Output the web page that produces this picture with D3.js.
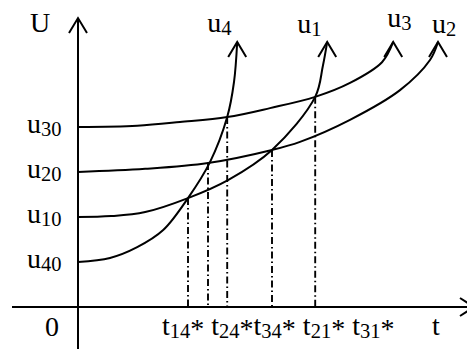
<!DOCTYPE html>
<html>
<head>
<meta charset="utf-8">
<script src="https://cdn.jsdelivr.net/npm/d3@7"></script>
<style>
  body { margin: 0; background: #fff; }
  text { font-family: "Liberation Serif", "Times New Roman", serif; fill: #000; }
</style>
</head>
<body>
<div id="chart"></div>
<script>
// levels of the four curves at t = 0
const levels = [
  { sub: "40", u: 1 },
  { sub: "10", u: 2 },
  { sub: "20", u: 3 },
  { sub: "30", u: 4 }
];

// curve points [t, u]
const u4 = [[0, 1], [0.8, 1.09], [1.48, 1.33], [2.13, 1.71], [2.75, 2.42], [3.3, 3.22], [3.73, 4.22], [3.9, 5.0], [3.98, 5.89]];
const u1 = [[0, 2], [0.83, 2.02], [1.68, 2.11], [2.75, 2.42], [3.75, 2.82], [4.85, 3.49], [5.93, 4.67], [6.12, 5.35], [6.23, 5.89]];
const u3 = [[0, 4], [1.48, 4.03], [2.55, 4.11], [3.73, 4.22], [4.8, 4.42], [5.93, 4.67], [6.8, 4.98], [7.6, 5.44], [7.88, 5.89]];
const u2 = [[0, 3], [1.68, 3.07], [3.25, 3.2], [4.85, 3.49], [5.55, 3.67], [6.8, 4.16], [8.05, 4.82], [8.8, 5.49], [9.0, 5.89]];

const curves = [
  { sub: "4", pts: u4 },
  { sub: "1", pts: u1 },
  { sub: "3", pts: u3 },
  { sub: "2", pts: u2 }
];

// crossing points [t, u] and their names
const crossings = [[2.75, 2.42], [3.25, 3.2], [3.73, 4.22], [4.85, 3.49], [5.93, 4.67]];
const crossNames = ["14", "24", "34", "21", "31"];

const W = 467, H = 349;

const svg = d3.select("#chart").append("svg")
  .attr("width", W)
  .attr("height", H);

// 40px per t unit, 45px per u unit
const x = d3.scaleLinear().domain([0, 9.7]).range([78, 466]);
const y = d3.scaleLinear().domain([0, 1]).range([307, 262]);

const ink = "#000";

// axes
svg.append("line")
  .attr("x1", x(0)).attr("x2", x(0))
  .attr("y1", H).attr("y2", y(6.42))
  .style("stroke", ink).style("stroke-width", 2);

svg.append("line")
  .attr("x1", 12).attr("x2", x(9.9))
  .attr("y1", y(0)).attr("y2", y(0))
  .style("stroke", ink).style("stroke-width", 2);

// up arrow head at a point
const upArrow = (px, py) =>
  `M${px - 9},${py + 15}L${px},${py}L${px + 9},${py + 15}`;

svg.append("path")
  .attr("d", upArrow(x(0), y(6.42)))
  .style("fill", "none").style("stroke", ink).style("stroke-width", 2);

let ax = x(9.9), ay = y(0);
svg.append("path")
  .attr("d", `M${ax - 14},${ay - 9}L${ax},${ay}L${ax - 14},${ay + 9}`)
  .style("fill", "none").style("stroke", ink).style("stroke-width", 2);

// dash-dot drop lines from crossings
svg.append("g").selectAll("line")
  .data(crossings)
  .enter().append("line")
  .attr("x1", (d) => x(d[0])).attr("x2", (d) => x(d[0]))
  .attr("y1", (d) => y(d[1])).attr("y2", y(0))
  .style("stroke", ink)
  .style("stroke-width", 1.9)
  .style("stroke-dasharray", "7,3,1.5,3");

// curves
const lineFn = d3.line()
  .x((d) => x(d[0]))
  .y((d) => y(d[1]))
  .curve(d3.curveCatmullRom.alpha(0.5));

svg.append("g").selectAll("path")
  .data(curves)
  .enter().append("path")
  .attr("d", (d) => lineFn(d.pts))
  .style("fill", "none")
  .style("stroke", ink)
  .style("stroke-width", 2);

svg.append("g").selectAll("path")
  .data(curves)
  .enter().append("path")
  .attr("d", (d) => {
    let last = d.pts[d.pts.length - 1];
    return upArrow(x(last[0]), y(last[1]));
  })
  .style("fill", "none")
  .style("stroke", ink)
  .style("stroke-width", 2);

// text helpers
const mainSize = 28, subSize = 20.5;

function subLabel (g, px, py, main, sub) {
  let t = g.append("text")
    .attr("x", px).attr("y", py)
    .style("font-size", mainSize + "px");
  t.append("tspan").text(main);
  t.append("tspan").attr("dy", 3).style("font-size", subSize + "px").text(sub);
  return t;
}

// curve names above arrow tips
const nameShift = { "4": -30, "1": -30, "3": -6, "2": -6 };
const nameRise = { "4": -10, "1": -9, "3": -15, "2": -9 };

curves.forEach((c) => {
  let last = c.pts[c.pts.length - 1];
  subLabel(svg, x(last[0]) + nameShift[c.sub], y(last[1]) + nameRise[c.sub], "u", c.sub);
});

// level labels
levels.forEach((l) => {
  subLabel(svg, 27, y(l.u) + 6, "u", l.sub);
});

// axis names
svg.append("text")
  .attr("x", 30).attr("y", 32)
  .style("font-size", mainSize + "px")
  .text("U");

svg.append("text")
  .attr("x", 45).attr("y", 336)
  .style("font-size", mainSize + "px")
  .text("0");

svg.append("text")
  .attr("x", 432).attr("y", 335)
  .style("font-size", mainSize + "px")
  .text("t");

// crossing times written as one run under the axis
let run = svg.append("text")
  .attr("x", x(crossings[0][0]) - 26)
  .attr("y", 335)
  .style("font-size", mainSize + "px");

crossNames.forEach((n, i) => {
  let gap = (i === 0 || i === 2) ? "" : "\u00a0";
  run.append("tspan").attr("dy", i === 0 ? 0 : -3).text(gap + "t");
  run.append("tspan").attr("dy", 3).style("font-size", subSize + "px").text(n);
  run.append("tspan").text("*");
});
</script>
</body>
</html>
